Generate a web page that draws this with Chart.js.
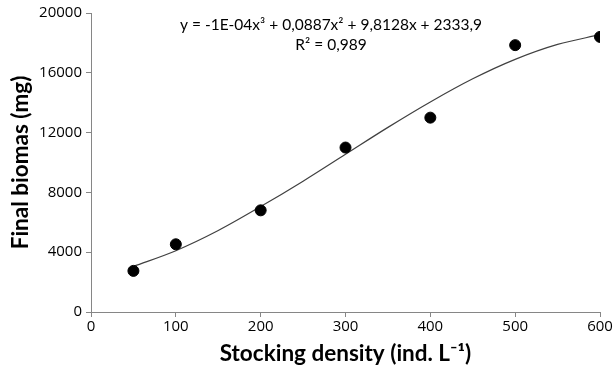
<!DOCTYPE html>
<html>
<head>
<meta charset="utf-8">
<script src="https://cdn.jsdelivr.net/npm/chart.js@4"></script>
<style>
  html, body { margin: 0; padding: 0; background: #fff; }
  #wrap { width: 614px; height: 371px; }
</style>
</head>
<body>
<div id="wrap"><canvas id="biomassChart" width="614" height="371"></canvas></div>
<script>
// observed points
const density = [50, 100, 200, 300, 400, 500, 600];
const biomass = [2750, 4530, 6800, 11000, 13000, 17850, 18400];

// trend line
const trendX = [50, 100, 150, 200, 250, 300, 350, 400, 450, 500, 550, 600];
const trendY = [3050, 4100, 5450, 7050, 8750, 10550, 12350, 14050, 15600, 16900, 17900, 18550];

const yTicks = [0, 4000, 8000, 12000, 16000, 20000];
const xTicks = [0, 100, 200, 300, 400, 500, 600];

const equationLines = ['y = -1E-04x³ + 0,0887x² + 9,8128x + 2333,9', 'R² = 0,989'];

const fontFamily = 'Lato, "Open Sans", "Noto Sans", sans-serif';
const tickFamily = '"Open Sans", Lato, sans-serif';
const axisGray = '#868686';

// writes the fit equation above the curve
const equationPlugin = {
    id: 'equation',
    afterDraw(chart) {
        const ctx = chart.ctx;
        ctx.save();
        ctx.fillStyle = '#000';
        ctx.font = '15.5px ' + fontFamily;
        ctx.textAlign = 'center';
        ctx.textBaseline = 'middle';
        ctx.fillText(equationLines[0], 331, 25);
        ctx.fillText(equationLines[1], 331, 45);
        ctx.restore();
    }
};

const ctx = document.getElementById('biomassChart').getContext('2d');

new Chart(ctx, {
    type: 'scatter',
    data: {
        datasets: [
            {
                data: density.map((x, i) => ({ x: x, y: biomass[i] })),
                backgroundColor: '#000',
                borderColor: '#000',
                pointRadius: 5.5,
                showLine: false,
                order: 1
            },
            {
                data: trendX.map((x, i) => ({ x: x, y: trendY[i] })),
                showLine: true,
                borderColor: '#404040',
                borderWidth: 1.2,
                pointRadius: 0,
                cubicInterpolationMode: 'monotone',
                order: 2
            }
        ]
    },
    options: {
        responsive: false,
        animation: false,
        layout: { padding: { top: 12, right: 14, left: 0, bottom: 0 } },
        scales: {
            x: {
                type: 'linear',
                min: 0,
                max: 600,
                afterBuildTicks: axis => { axis.ticks = xTicks.map(v => ({ value: v })); },
                afterFit: axis => { axis.height = 59; },
                border: { color: axisGray, width: 1 },
                grid: { drawOnChartArea: false, tickLength: 5, color: axisGray },
                ticks: {
                    color: '#000',
                    font: { family: tickFamily, size: 15 },
                    padding: 1,
                    callback: v => String(v)
                },
                title: {
                    display: true,
                    text: 'Stocking density (ind. L⁻¹)',
                    color: '#000',
                    font: { family: fontFamily, size: 22.5, weight: 'bold' },
                    padding: { top: 5 }
                }
            },
            y: {
                min: 0,
                max: 20000,
                afterBuildTicks: axis => { axis.ticks = yTicks.map(v => ({ value: v })); },
                afterFit: axis => { axis.width = 91; },
                border: { color: axisGray, width: 1 },
                grid: { drawOnChartArea: false, tickLength: 5, color: axisGray },
                ticks: {
                    color: '#000',
                    font: { family: tickFamily, size: 15 },
                    padding: 4,
                    callback: v => String(v)
                },
                title: {
                    display: true,
                    text: 'Final biomas (mg)',
                    color: '#000',
                    font: { family: fontFamily, size: 22.5, weight: 'bold' },
                    padding: { top: 7, bottom: 2 }
                }
            }
        },
        plugins: {
            legend: { display: false },
            tooltip: { enabled: false }
        }
    },
    plugins: [equationPlugin]
});
</script>
</body>
</html>
